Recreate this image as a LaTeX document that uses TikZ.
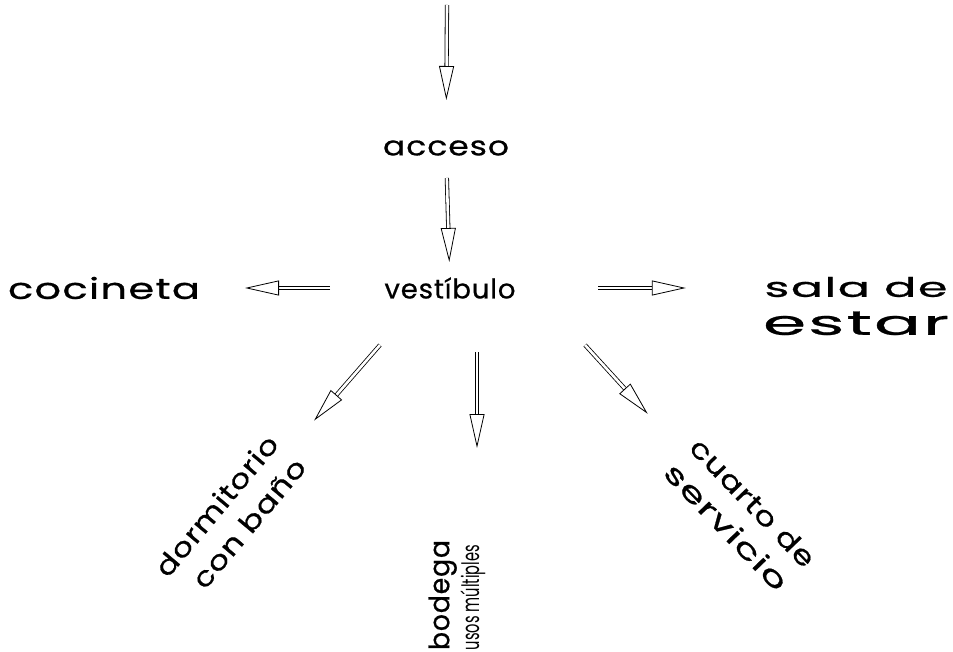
\documentclass[tikz,border=0pt]{standalone}
\usepackage{fontspec}
\setmainfont{Poppins}
\usetikzlibrary{arrows.meta}
\newfontfamily\gothic{Poppins}[LetterSpace=3,FakeBold=0.6]
\newfontfamily\narrow{Poppins}
% stretch a label to a given width, keeping its height
\newcommand{\fit}[2]{\resizebox{#1pt}{\height}{#2}}

\begin{document}
\begin{tikzpicture}[x=1pt,y=-1pt,
  hollow/.style={double,double distance=2.6pt,line width=.8pt,
    -{Triangle[open,length=34pt,width=15pt,line width=.8pt]}},
  room/.style={font=\gothic\fontsize{27}{36}\selectfont,inner sep=0pt}]
  \useasboundingbox (0,0) rectangle (953,652);
  % espacios
  \node[room] (acc) at (446,148) {\fit{126}{acceso}};
  \node[room] (vest) at (450,288) {\fit{131}{vestíbulo}};
  \node[room] (coc) at (104,288) {\fit{192}{\fontsize{29}{36}\selectfont cocineta}};
  \node[room,align=center] (sala) at (856,306)
    {\fit{183}{sala de}\\[2pt]\fit{186}{\fontsize{34}{36}\selectfont estar}};
  \node[room,align=right,rotate=50] (dorm) at (230,517)
    {\fit{175}{dormitorio}\\\fit{160}{con baño}};
  \node[room,align=left,rotate=90] (bod) at (457,595)
    {\fit{110}{\fontsize{28}{36}\selectfont bodega}\\[-6pt]%
     \fit{105}{\narrow\fontsize{24}{24}\selectfont usos múltiples}};
  \node[room,align=left,rotate=-46] (cto) at (740,515)
    {\fit{167}{cuarto de}\\\fit{165}{servicio}};
  % circulaciones
  \coordinate (in) at (447,5);
  \draw[hollow,shorten >=48pt] (in) -- (acc.center);
  \draw[hollow,shorten <=30pt,shorten >=26pt] (acc.center) -- (vest.center);
  \draw[hollow,shorten <=120pt,shorten >=141pt] (vest.center) -- (coc.center);
  \draw[hollow,shorten <=148pt,shorten >=77pt] (vest.center) -- (vest.center -| sala.west);
  \draw[hollow,shorten >=128pt] ([shift={(-70,57)}]vest.center) -- (dorm.center);
  \draw[hollow,shorten <=64pt,shorten >=147pt] ([xshift=27pt]vest.center) -- ([xshift=27pt]vest.center |- bod.center);
  \draw[hollow,shorten >=137pt] ([shift={(135,57)}]vest.center) -- (cto.center);
\end{tikzpicture}
\end{document}
